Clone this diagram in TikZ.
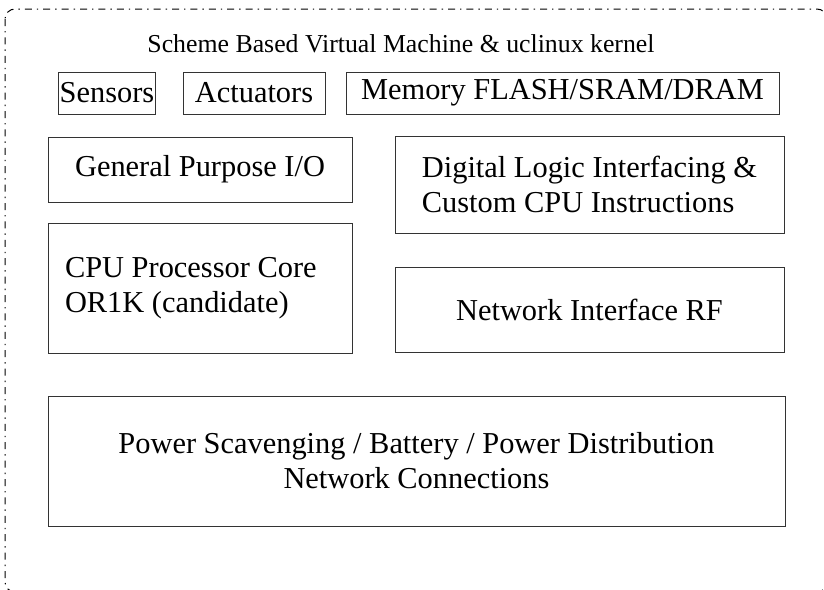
\documentclass[tikz,border=0pt]{standalone}
\usepackage{fontspec}
\setmainfont{Liberation Serif}
\usepackage{tikz}
\usetikzlibrary{positioning}

\begin{document}
\begin{tikzpicture}[
  x=0.5pt, y=-0.5pt,
  every node/.style={font=\fontsize{15.2}{17.5}\selectfont},
  block/.style={rectangle, draw=black!80, line width=0.5pt, inner sep=0.5pt,
                align=center},
  outline/.style={draw, line width=0.5pt, rounded corners=5pt,
                  dash pattern=on 3.5pt off 2.5pt on 0.7pt off 2.5pt},
]
  \clip (0,0) rectangle (824,589);
  \draw[outline] (5,9) rectangle (827,592);

  \node[font=\fontsize{12.9}{15}\selectfont] (title) at (401,44)
    {Scheme Based Virtual Machine \& uclinux kernel};

  \node[block, minimum width=48pt, minimum height=21pt] (sensors) at (107,93) {Sensors};
  \node[block, minimum width=71pt, minimum height=21pt] (actuators) at (254,93) {Actuators};
  \node[block, minimum width=216.5pt, minimum height=21pt] (memory) at (562.5,93)
    {Memory FLASH/SRAM/DRAM};

  \node[block, minimum width=152pt, minimum height=32.5pt] (gpio) at (200,169.5)
    {General Purpose I/O};
  \node[block, minimum width=194.5pt, minimum height=48.5pt, align=left]
    (digital) at (589.5,184.5)
    {Digital Logic Interfacing \&\\Custom CPU Instructions};

  \node[block, minimum width=152pt, minimum height=65pt, text width=135pt,
        align=flush left] (cpu) at (200,288)
    {CPU Processor Core\\OR1K (candidate)};
  \node[block, minimum width=194.5pt, minimum height=42.5pt] (network) at (589.5,309.5)
    {Network Interface RF};

  \node[block, minimum width=368.5pt, minimum height=65pt] (power) at (416.5,461)
    {Power Scavenging / Battery / Power Distribution\\Network Connections};
\end{tikzpicture}
\end{document}
